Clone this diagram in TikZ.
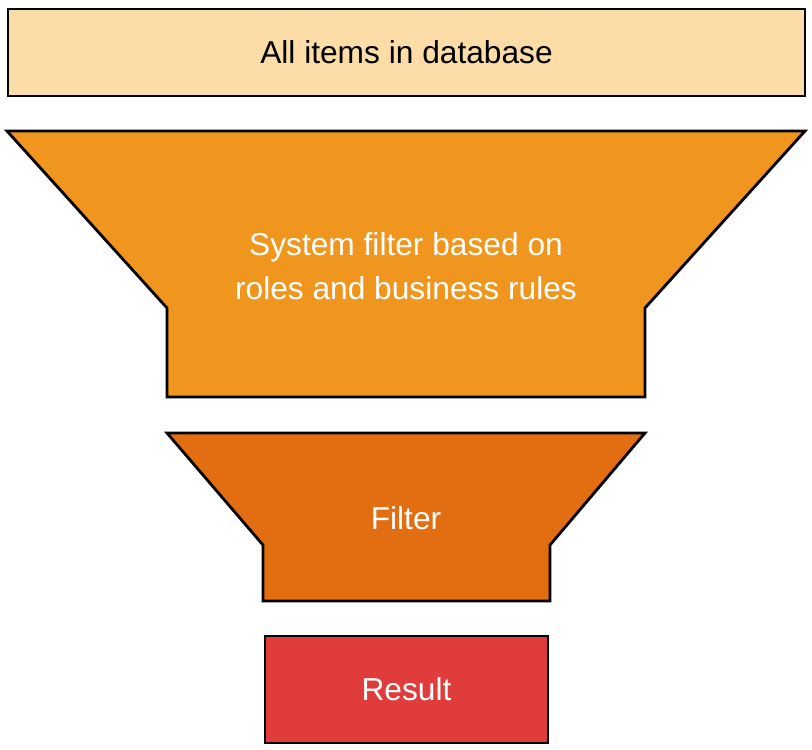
\documentclass[tikz,border=0pt]{standalone}
\usepackage{fontspec}
\setmainfont{Liberation Sans}
\usetikzlibrary{positioning}
\definecolor{dbfill}{HTML}{FDDDA7}
\definecolor{sysfill}{HTML}{F0961E}
\definecolor{filtfill}{HTML}{E36E12}
\definecolor{resfill}{HTML}{E03C3B}
\tikzstyle{lbl}=[align=center,font=\fontsize{31.7}{44}\selectfont]
\tikzstyle{box}=[rectangle,draw,line width=2.8pt,inner sep=0pt,lbl]
\tikzstyle{stage}=[draw,line width=2.8pt]

\begin{document}
\begin{tikzpicture}[x=1pt,y=-1pt]
\useasboundingbox (0,0) rectangle (812,750);
\node[box, fill=dbfill, minimum width=797pt, minimum height=87pt] (A) at (406.5,52.5) {All items in database};
\draw[stage, fill=sysfill] (7,131) -- (805,131) -- (645,308) -- (645,397) -- (167,397) -- (167,308) -- cycle;
\node[lbl, text=white] (B) at (406,266) {System filter based on\\roles and business rules};
\draw[stage, fill=filtfill] (167,433) -- (645,433) -- (550,545) -- (550,601) -- (263,601) -- (263,545) -- cycle;
\node[lbl, text=white] (C) at (406,518) {Filter};
\node[box, fill=resfill, text=white, minimum width=283pt, minimum height=107pt] (D) at (406.5,689.5) {Result};
\end{tikzpicture}
\end{document}
